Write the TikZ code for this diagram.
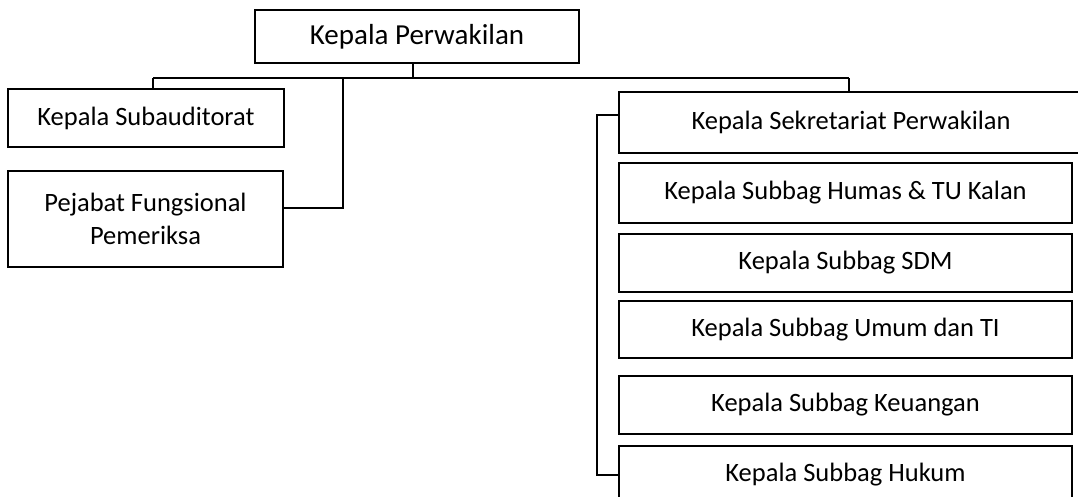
\documentclass[tikz,border=0pt]{standalone}
\usepackage{fontspec}
\setmainfont{Carlito}
\begin{document}
\begin{tikzpicture}[x=1pt,y=-1pt,
  box/.style={draw=black,line width=1.7pt,fill=white,inner sep=0pt,align=center,
    font=\fontsize{26.5}{33}\selectfont},
  wire/.style={draw=black,line width=1.6pt}]
\useasboundingbox (0,0) rectangle (1078,496);
\node[box,minimum width=324pt,minimum height=53pt,font=\fontsize{29}{34}\selectfont] (top) at (417,36.5) {Kepala Perwakilan};
\node[box,minimum width=276pt,minimum height=58pt] (sub) at (146,118) {Kepala Subauditorat};
\node[box,minimum width=275pt,minimum height=96pt] (pej) at (145.5,219) {Pejabat Fungsional\\Pemeriksa};
\node[box,minimum width=464pt,minimum height=61pt] (sek) at (851,122.5) {Kepala Sekretariat Perwakilan};
\node[box,minimum width=453pt,minimum height=60pt] (hum) at (845.5,193) {Kepala Subbag Humas \& TU Kalan};
\node[box,minimum width=453pt,minimum height=58pt] (sdm) at (845.5,263) {Kepala Subbag SDM};
\node[box,minimum width=453pt,minimum height=57pt] (umu) at (845.5,329.5) {Kepala Subbag Umum dan TI};
\node[box,minimum width=453pt,minimum height=58pt] (keu) at (845.5,405) {Kepala Subbag Keuangan};
\node[box,minimum width=453pt,minimum height=58pt] (huk) at (845.5,475) {Kepala Subbag Hukum};
\coordinate (stem) at (413,63);
\coordinate (barL) at (153,78);
\coordinate (barR) at (849,78);
\coordinate (pj) at (343,78);
\coordinate (pjy) at (0,208);
\coordinate (bk) at (597,115);
\draw[wire] (stem) -- (stem |- barL);
\draw[wire] (barL) -- (barR);
\draw[wire] (barL) -- (barL |- sub.north);
\draw[wire] (pj) |- (pej.east |- pjy);
\draw[wire] (barR) -- (barR |- sek.north);
\draw[wire] (sek.west |- bk) -- (bk) |- (huk.west);
\end{tikzpicture}
\end{document}
